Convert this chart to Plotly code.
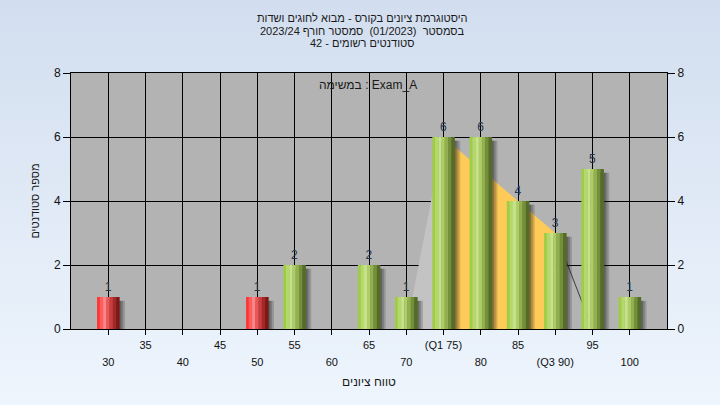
import base64
import plotly.graph_objects as go

# ---------------- data ----------------
grades = [30, 35, 40, 45, 50, 55, 60, 65, 70, 75, 80, 85, 90, 95, 100]
students = [1, 0, 0, 0, 1, 2, 0, 2, 1, 6, 6, 4, 3, 5, 1]
tick_labels = ['30', '35', '40', '45', '50', '55', '60', '65', '70',
               '(Q1 75)', '80', '85', '(Q3 90)', '95', '100']
fail_below = 55
quart_x = [70, 75, 90, 95]      # outline of quartile area
quart_y = [0, 6, 3, 0]

title_lines = [
    "היסטוגרמת ציונים בקורס - מבוא לחוגים ושדות",
    "בסמסטר  (01/2023)  סמסטר חורף 2023/24",
    "סטודנטים רשומים - 42",
]
legend_text = "במשימה : Exam_A"
x_title = "טווח ציונים"
y_title = "מספר סטודנטים"

FONT = "Liberation Sans, Arial, DejaVu Sans, sans-serif"
W, H = 720, 405
ML, MR, MT, MB = 71, 53, 73, 76
PW, PH = W - ML - MR, H - MT - MB
XR = [25, 105]
YR = [0, 8]

fig = go.Figure()

# ---- quartile area (main subplot, under bars) ----
fig.add_trace(go.Scatter(
    x=[quart_x[0], quart_x[1], quart_x[1]], y=[quart_y[0], quart_y[1], 0],
    fill='toself', fillcolor='#C3C3C3', mode='lines', line=dict(width=0),
    hoverinfo='skip', showlegend=False))
fig.add_trace(go.Scatter(
    x=[quart_x[1], quart_x[1], quart_x[2], quart_x[2]],
    y=[0, quart_y[1], quart_y[2], 0],
    fill='toself', fillcolor='#FFCB58', mode='lines', line=dict(width=0),
    hoverinfo='skip', showlegend=False))
fig.add_trace(go.Scatter(
    x=quart_x[2:], y=quart_y[2:], mode='lines',
    line=dict(color='#3C3C3C', width=1), hoverinfo='skip', showlegend=False))

# ---- bars (overlay subplot) ----
BW = 3.0
# shadows
for k, (dx, a) in enumerate([(0.75, 0.18), (0.5, 0.22), (0.25, 0.28)]):
    fig.add_trace(go.Bar(
        x=grades, y=[v - 0.12 if v > 0 else 0 for v in students],
        width=BW, offset=-BW / 2 + dx,
        marker=dict(color='rgba(30,30,30,%s)' % a, line=dict(width=0)),
        xaxis='x2', yaxis='y2', hoverinfo='skip', showlegend=False))

green_strips = ['#9FCC47', '#B4D968', '#C6E38C', '#AECD66', '#92B04F', '#738F3A', '#556C27']
red_strips = ['#FF3434', '#FF5E5E', '#FF8686', '#EA5757', '#C93D3D', '#A42828', '#7E1818']
bounds = [0, 0.12, 0.27, 0.41, 0.55, 0.70, 0.85, 1.0]
for k in range(len(green_strips)):
    cols = [red_strips[k] if g < fail_below else green_strips[k] for g in grades]
    fig.add_trace(go.Bar(
        x=grades, y=students,
        width=BW * (bounds[k + 1] - bounds[k]) + 0.03,
        offset=-BW / 2 + BW * bounds[k],
        marker=dict(color=cols, line=dict(width=0)),
        xaxis='x2', yaxis='y2', hoverinfo='skip', showlegend=False))

# value labels
fig.add_trace(go.Bar(
    x=grades, y=students, width=BW, offset=-BW / 2,
    marker=dict(color='rgba(0,0,0,0)', line=dict(width=0)),
    text=[str(v) if v else '' for v in students], textposition='outside',
    textfont=dict(family=FONT, size=12, color='#26354A'),
    cliponaxis=False, xaxis='x2', yaxis='y2', hoverinfo='skip', showlegend=False))

upper = [t if i % 2 == 1 else '' for i, t in enumerate(tick_labels)]
lower_vals = [g for i, g in enumerate(grades) if i % 2 == 0]
lower_text = [t for i, t in enumerate(tick_labels) if i % 2 == 0]

# background gradient
svg = ('<svg xmlns="http://www.w3.org/2000/svg" width="720" height="405">'
       '<defs><linearGradient id="g" x1="0" y1="0" x2="0" y2="1">'
       '<stop offset="0" stop-color="#D2DEEF"/><stop offset="1" stop-color="#EEF5FD"/>'
       '</linearGradient></defs><rect width="720" height="405" fill="url(#g)"/></svg>')
src = "data:image/svg+xml;base64," + base64.b64encode(svg.encode()).decode()

tickfont = dict(family=FONT, size=11, color='#111111')
fig.update_layout(
    width=W, height=H,
    margin=dict(l=ML, r=MR, t=MT, b=MB, autoexpand=False),
    paper_bgcolor='#E0E9F5', plot_bgcolor='rgba(0,0,0,0)',
    barmode='overlay', showlegend=False,
    font=dict(family=FONT, size=12, color='#111111'),
    images=[dict(source=src, xref='paper', yref='paper',
                 x=-ML / PW, y=1 + MT / PH, sizex=W / PW, sizey=H / PH,
                 xanchor='left', yanchor='top', sizing='stretch', layer='below')],
    shapes=[dict(type='rect', xref='paper', yref='paper', x0=0, x1=1, y0=0, y1=1,
                 fillcolor='#B3B3B3', line=dict(width=0), layer='below')],
    xaxis=dict(range=XR, tickvals=grades, ticktext=upper, ticks='outside', ticklen=5,
               tickcolor='black', showgrid=True, gridcolor='black', gridwidth=1,
               showline=True, linecolor='black', linewidth=1, mirror=True,
               zeroline=False, tickfont=tickfont, automargin=False, ticklabelstandoff=1,
               title=dict(text=x_title, standoff=27,
                          font=dict(family=FONT, size=12, color='#1A1A1A'))),
    xaxis2=dict(range=XR, overlaying='x', anchor='y', side='bottom',
                tickvals=lower_vals, ticktext=lower_text, ticks='outside', ticklen=5,
                tickcolor='rgba(0,0,0,0)', ticklabelstandoff=18,
                showgrid=False, showline=False, zeroline=False, tickfont=tickfont,
                automargin=False),
    yaxis=dict(range=YR, tick0=0, dtick=2, ticks='outside', ticklen=7, tickcolor='black',
               showgrid=True, gridcolor='black', gridwidth=1, showline=True,
               linecolor='black', linewidth=1, zeroline=False, automargin=False,
               tickfont=dict(family=FONT, size=12, color='#111111'),
               title=dict(text=y_title, standoff=12,
                          font=dict(family=FONT, size=11, color='#1A1A1A'))),
    yaxis2=dict(range=YR, tick0=0, dtick=2, overlaying='y', anchor='x', side='right',
                ticks='outside', ticklen=7, tickcolor='black', showgrid=False,
                showline=True, linecolor='black', linewidth=1, zeroline=False,
                automargin=False, tickfont=dict(family=FONT, size=12, color='#111111')),
)

ann = []
for i, (line, ypix) in enumerate(zip(title_lines, [18, 30.5, 43])):
    ann.append(dict(text=line, xref='paper', yref='paper', x=(362 - ML) / PW, y=1,
                    yanchor='middle', xanchor='center', yshift=MT - ypix, showarrow=False,
                    font=dict(family=FONT, size=11, color='#1A1A1A')))
ann.append(dict(text=legend_text, xref='paper', yref='paper', x=(368 - ML) / PW, y=1,
                yanchor='middle', xanchor='center', yshift=MT - 85, showarrow=False,
                font=dict(family=FONT, size=12, color='#1A1A1A')))
fig.update_layout(annotations=ann)

fig.write_html("out.html", config={'displayModeBar': False},
               post_script="document.body.style.margin='0';document.body.style.overflow='hidden';")
